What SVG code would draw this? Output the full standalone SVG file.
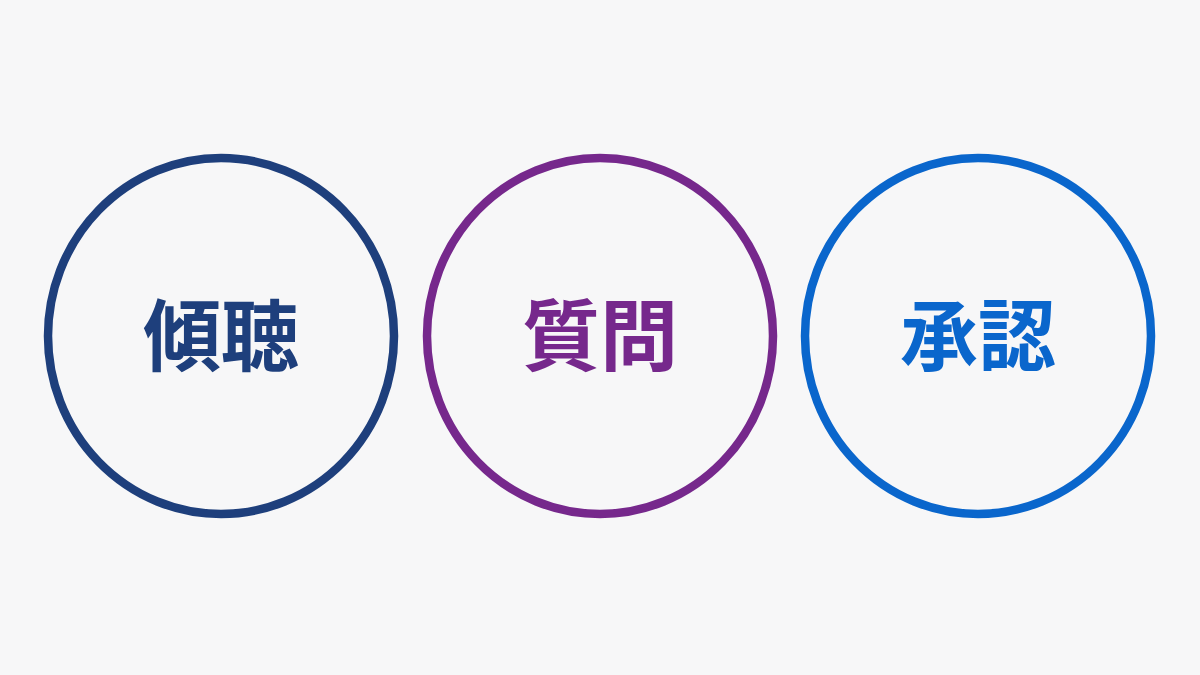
<svg xmlns="http://www.w3.org/2000/svg" width="1200" height="675" viewBox="0 0 1200 675">
<style>
.ring{fill:none;stroke-width:8.5}
.lbl{font-family:"Noto Sans CJK JP","Noto Sans CJK SC",sans-serif;font-weight:700;font-size:78px;text-anchor:middle;dominant-baseline:central}
</style>
<rect width="1200" height="675" fill="#f7f7f8"/>
<g id="node-keicho">
<ellipse class="ring" cx="221" cy="336" rx="173" ry="178" stroke="#1e3f7c"/>
<text class="lbl" x="221" y="331" fill="#1e3f7c">傾聴</text>
</g>
<g id="node-shitsumon">
<ellipse class="ring" cx="600" cy="336" rx="173" ry="178" stroke="#76288c"/>
<text class="lbl" x="600" y="331" fill="#76288c">質問</text>
</g>
<g id="node-shonin">
<ellipse class="ring" cx="978" cy="336" rx="173" ry="178" stroke="#0a66cc"/>
<text class="lbl" x="978" y="331" fill="#0a66cc">承認</text>
</g>
<g id="connectors"></g>
</svg>
